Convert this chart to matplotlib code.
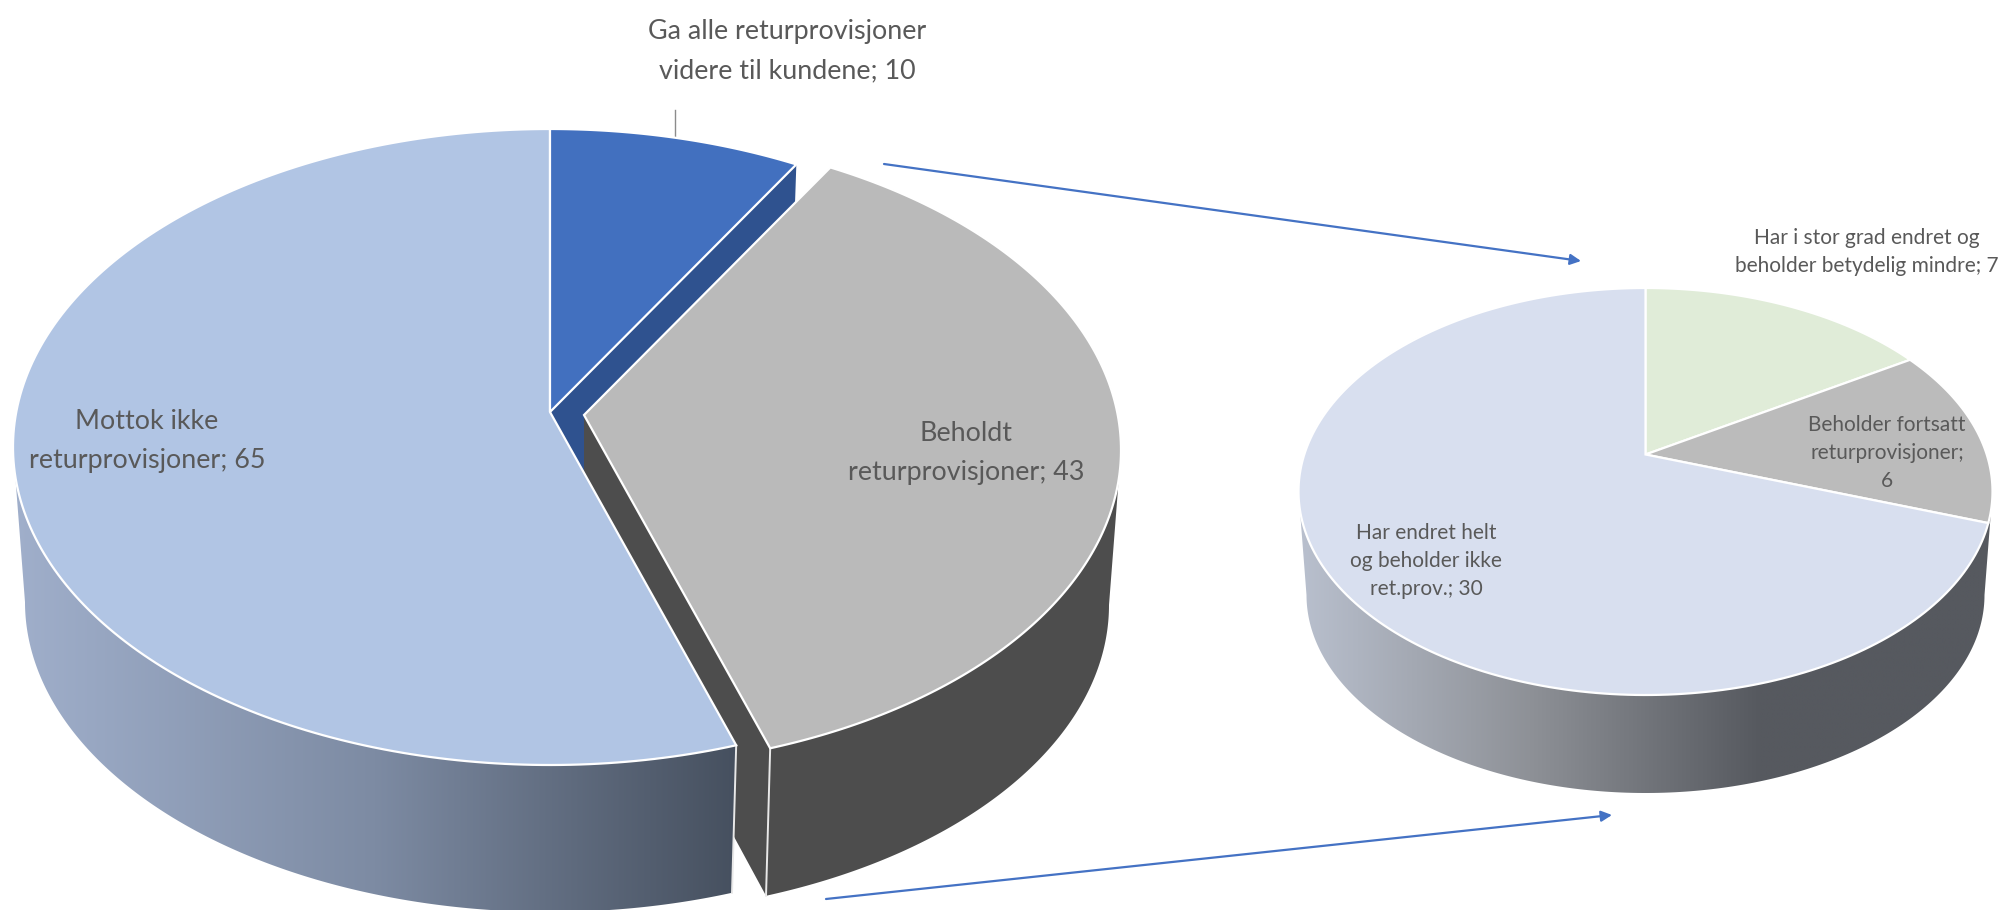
import numpy as np
import matplotlib
matplotlib.use('Agg')
import matplotlib.pyplot as plt
from matplotlib.colors import LinearSegmentedColormap
from matplotlib.patches import Polygon

# values
main_names = ['Ga alle returprovisjoner\nvidere til kundene; 10',
              'Beholdt\nreturprovisjoner; 43',
              'Mottok ikke\nreturprovisjoner; 65']
main_values = [10, 43, 65]
sub_names = ['Har i stor grad endret og\nbeholder betydelig mindre; 7',
             'Beholder fortsatt\nreturprovisjoner;\n6',
             'Har endret helt\nog beholder ikke\nret.prov.; 30']
sub_values = [7, 6, 30]

main_colors = ['#4270BF', '#BABABA', '#B1C5E4']
sub_colors = ['#E0ECD8', '#BBBBBB', '#D8DFEF']

# the 3D look of the pies, in pixels of the picture
MAIN = dict(cx=550, cy=447, a=537, b=318, apex=-35, cy2=602, a2=525, b2=310, depth=145)
SUB = dict(cx=1645.5, cy=491.5, a=347, b=203.5, apex=-37, cy2=595, a2=339, b2=198, depth=98)
EXPLODE = (34, 3)
TEXT_COLOR = '#595959'


def rim_param(pie, angle):
    # follow a ray from the apex, tilted like the pie, out to the rim
    if angle >= 360:
        return 2 * np.pi
    s, c = np.sin(np.radians(angle)), np.cos(np.radians(angle)) * pie['b'] / pie['a']
    qa = (s / pie['a']) ** 2 + (c / pie['b']) ** 2
    qb = -2 * pie['apex'] * c / pie['b'] ** 2
    qc = (pie['apex'] / pie['b']) ** 2 - 1
    r = (-qb + np.sqrt(qb ** 2 - 4 * qa * qc)) / (2 * qa)
    return np.arctan2(s * r / pie['a'], -(pie['apex'] - c * r) / pie['b']) % (2 * np.pi)


def top_rim(pie, t):
    return np.column_stack([pie['cx'] + pie['a'] * np.sin(t), pie['cy'] - pie['b'] * np.cos(t)])


def bottom_rim(pie, t):
    return np.column_stack([pie['cx'] + pie['a2'] * np.sin(t), pie['cy2'] - pie['b2'] * np.cos(t)])


def apex_point(pie):
    return np.array([pie['cx'], pie['cy'] + pie['apex']])


def top_face(ax, pie, t0, t1, color, shift=(0, 0), z=3):
    t = np.linspace(t0, t1, 200)
    pts = np.vstack([apex_point(pie), top_rim(pie, t)]) + shift
    ax.add_patch(Polygon(pts, closed=True, fc=color, ec='white', lw=1.6, zorder=z))


def outer_side(pie, t0, t1, shift=(0, 0)):
    t = np.linspace(t0, t1, 200)
    return np.vstack([top_rim(pie, t), bottom_rim(pie, t)[::-1]]) + shift


def cut_face(ax, pie, t, color, shift=(0, 0), z=1):
    tt = np.array([t])
    pts = np.vstack([apex_point(pie), top_rim(pie, tt), bottom_rim(pie, tt),
                     apex_point(pie) + (0, pie['depth'])]) + shift
    ax.add_patch(Polygon(pts, closed=True, fc=color, ec='none', zorder=z))


def gradient_side(ax, pts, cmap, z=2):
    patch = Polygon(pts, closed=True, fc='none', ec='none', zorder=z)
    ax.add_patch(patch)
    grad = np.linspace(0, 1, 256).reshape(1, -1)
    im = ax.imshow(grad, cmap=cmap, aspect='auto', zorder=z, interpolation='bilinear',
                   extent=(pts[:, 0].min(), pts[:, 0].max(), pts[:, 1].max(), pts[:, 1].min()))
    im.set_clip_path(patch)


fig = plt.figure(figsize=(20.06, 9.10), dpi=100)
ax = fig.add_axes([0, 0, 1, 1])
ax.axis('off')

main_cmap = LinearSegmentedColormap.from_list('main', ['#A0AFCB', '#7D8BA3', '#46505F'])
sub_cmap = LinearSegmentedColormap.from_list('sub', ['#B9C0CE', '#8E9197', '#56595F', '#56595F'])

# big pie, clockwise from the top
edges = np.cumsum([0] + main_values) / sum(main_values) * 360
t_main = [rim_param(MAIN, e) for e in edges]
cut_face(ax, MAIN, t_main[1], '#2F528F', z=1)
cut_face(ax, MAIN, t_main[2], '#4D4D4D', shift=EXPLODE, z=2)
# the outer wall only shows from the right extreme of the rim onwards
ax.add_patch(Polygon(outer_side(MAIN, 0.5 * np.pi, t_main[2], EXPLODE), closed=True,
                     fc='#4D4D4D', ec='none', zorder=2))
rim_low = np.array([t_main[2]])
corner = np.vstack([top_rim(MAIN, rim_low), bottom_rim(MAIN, rim_low)]) + EXPLODE
ax.plot(corner[:, 0], corner[:, 1], color='#E8E8E8', lw=1.4, zorder=3)
top_face(ax, MAIN, t_main[1], t_main[2], main_colors[1], EXPLODE, z=3)

gradient_side(ax, outer_side(MAIN, t_main[2], 1.5 * np.pi), main_cmap, z=4)
end_line = np.vstack([top_rim(MAIN, rim_low), bottom_rim(MAIN, rim_low)])
ax.plot(end_line[:, 0], end_line[:, 1], color='#E8E8E8', lw=1.4, zorder=5)
top_face(ax, MAIN, t_main[2], t_main[3], main_colors[2], z=6)
top_face(ax, MAIN, t_main[0], t_main[1], main_colors[0], z=7)

# small pie
sub_edges = np.cumsum([0] + sub_values) / sum(sub_values) * 360
t_sub = [rim_param(SUB, e) for e in sub_edges]
gradient_side(ax, outer_side(SUB, 0.5 * np.pi, 1.5 * np.pi), sub_cmap, z=2)
for i, col in enumerate(sub_colors):
    top_face(ax, SUB, t_sub[i], t_sub[i + 1], col, z=3)

# leader line and arrows
ax.plot([675, 675], [110, 137], color='#8C8C8C', lw=1, zorder=1)
for start, end in [((884, 164), (1581, 261)), ((826, 899), (1612, 815))]:
    ax.annotate('', xy=end, xytext=start,
                arrowprops=dict(arrowstyle='-|>', color='#4472C4', lw=1.6,
                                mutation_scale=16, shrinkA=0, shrinkB=0))

# labels
big_label = dict(ha='center', va='center', fontsize=19.4, family='Lato',
                 color=TEXT_COLOR, linespacing=1.72, zorder=9)
small_label = dict(ha='center', va='center', fontsize=15, family='Lato',
                   color=TEXT_COLOR, linespacing=1.5, zorder=9)
ax.text(787, 51, main_names[0], **big_label)
ax.text(966, 453, main_names[1], **big_label)
ax.text(147, 441, main_names[2], **big_label)
ax.text(1867, 252, sub_names[0], **small_label)
ax.text(1887, 453, sub_names[1], **small_label)
ax.text(1426, 561, sub_names[2], **small_label)

ax.set_xlim(0, 2006)
ax.set_ylim(910, 0)
fig.savefig('out.png', dpi=100, facecolor='white')
